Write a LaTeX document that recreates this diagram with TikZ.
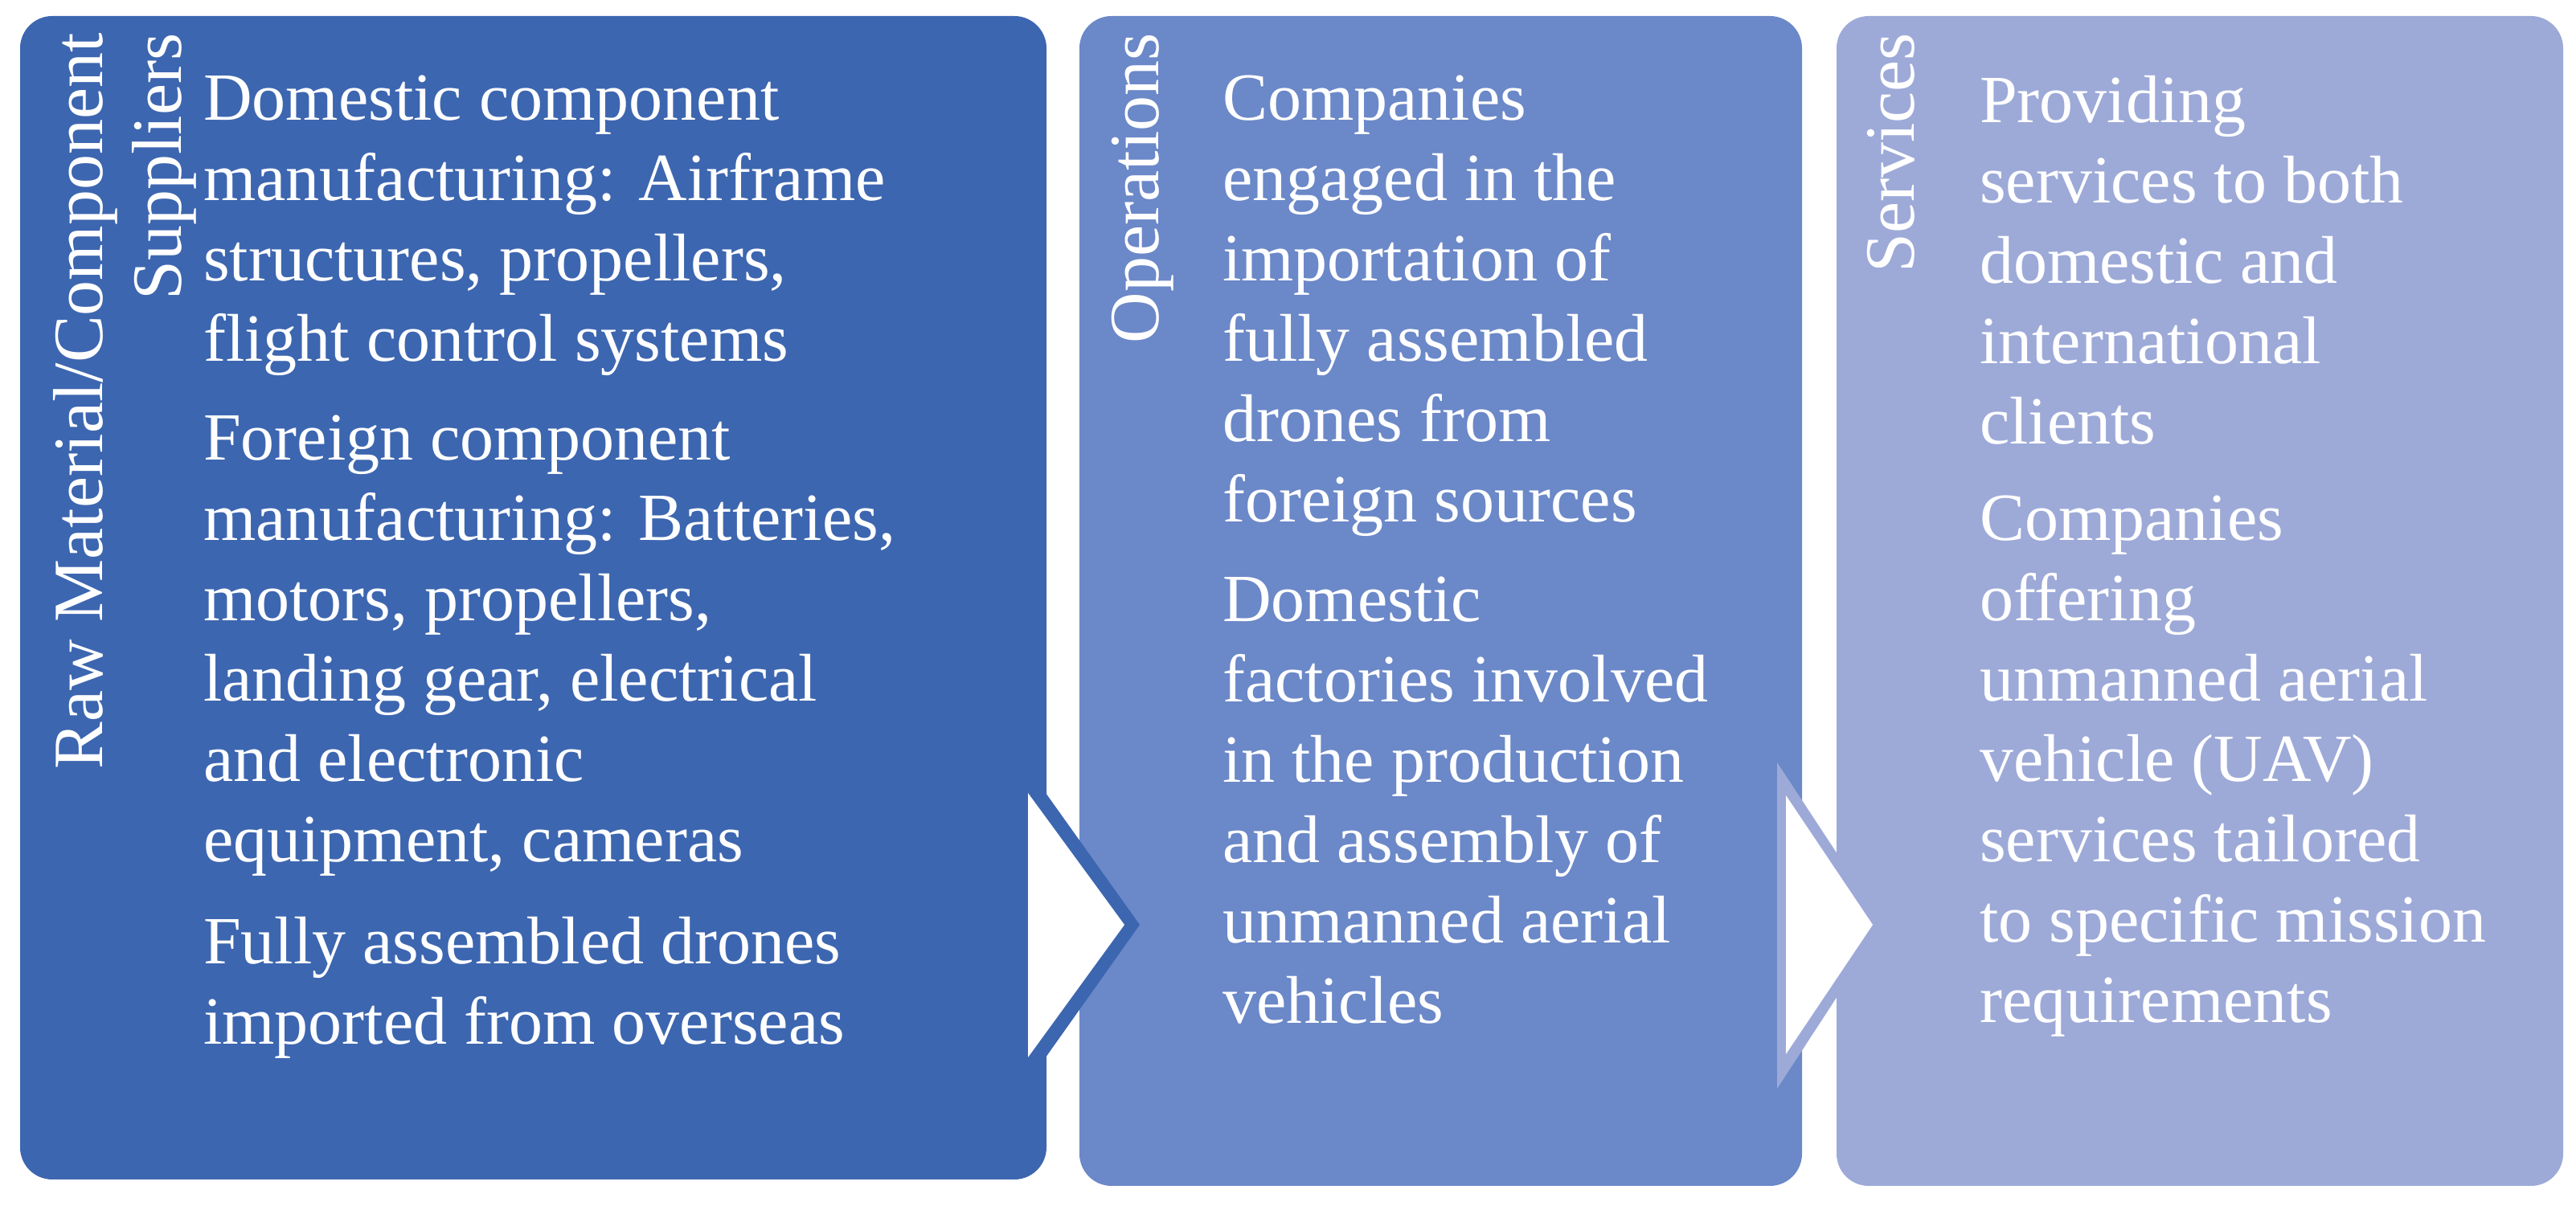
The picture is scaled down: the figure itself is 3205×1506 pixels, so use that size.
\documentclass[tikz,border=0pt]{standalone}
\usepackage{fontspec}
\setmainfont{Liberation Serif}
\begin{document}
\begin{tikzpicture}[x=1pt,y=1pt,
  box/.style={rounded corners=40pt,draw=none},
  body/.style={anchor=north west,align=left,inner sep=0pt,text=white,font=\fontsize{84}{100}\selectfont},
  lab/.style={rotate=90,anchor=base east,inner sep=0pt,text=white,font=\fontsize{88}{100}\selectfont}]
\definecolor{cA}{HTML}{3D66B0}
\definecolor{cB}{HTML}{6B88C8}
\definecolor{cC}{HTML}{9DAAD8}
\useasboundingbox (0,0) rectangle (3205,1506);
\fill[white] (0,0) rectangle (3205,1506);
\fill[cA,box] (25,38) rectangle (1302,1486);
\fill[cB,box] (1343,30) rectangle (2242,1486);
\fill[cC,box] (2285,30) rectangle (3189,1486);
% arrows
\fill[cA] (1279,519) -- (1301,519) -- (1418,355) -- (1301,190) -- (1279,190) -- cycle;
\fill[white] (1279,519) -- (1399,355) -- (1279,190) -- cycle;
\fill[cC] (2211,557) -- (2344,355) -- (2211,151) -- cycle;
\fill[white] (2222,516) -- (2330,355) -- (2222,194) -- cycle;
% labels
\node[lab] (l1a) at (127,1465) {Raw Material/Component};
\node[lab] (l1b) at (225,1465) {Suppliers};
\node[lab] (l2) at (1441,1465) {Operations};
\node[lab] (l3) at (2381,1465) {Services};
% texts
\node[body] (t1a) at (253,1412) {Domestic component\\manufacturing: Airframe\\structures, propellers,\\flight control systems};
\node[body] (t1b) at (253,989) {Foreign component\\manufacturing: Batteries,\\motors, propellers,\\landing gear, electrical\\and electronic\\equipment, cameras};
\node[body] (t1c) at (253,365) {Fully assembled drones\\imported from overseas};
\node[body] (t2a) at (1521,1412) {Companies\\engaged in the\\importation of\\fully assembled\\drones from\\foreign sources};
\node[body] (t2b) at (1521,788) {Domestic\\factories involved\\in the production\\and assembly of\\unmanned aerial\\vehicles};
\node[body] (t3a) at (2463,1412) {Providing\\services to both\\domestic and\\international\\clients};
\node[body] (t3b) at (2463,889) {Companies\\offering\\unmanned aerial\\vehicle (UAV)\\services tailored\\to specific mission\\requirements};
\end{tikzpicture}
\end{document}
